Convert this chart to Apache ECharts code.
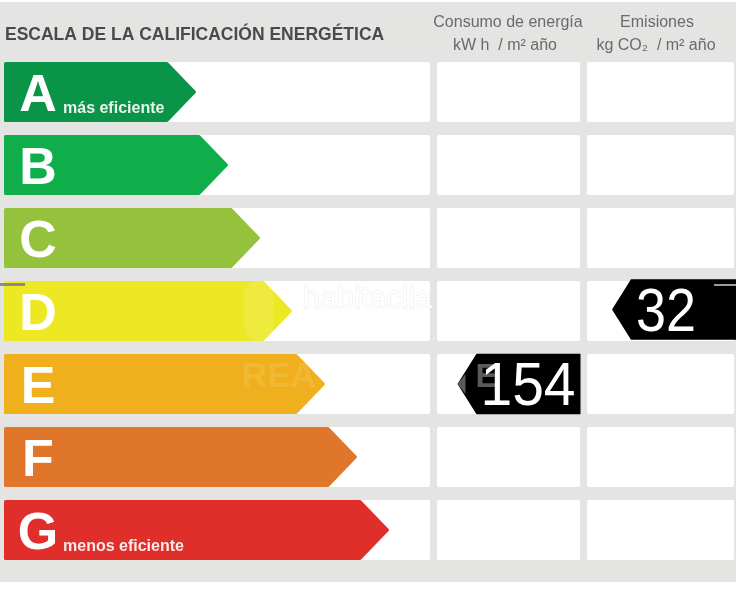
<!DOCTYPE html>
<html>
  <head>
    <meta charset="utf-8" />
    <script src="https://cdn.jsdelivr.net/npm/echarts@6/dist/echarts.min.js"></script>
    <style>
      html, body { margin: 0; padding: 0; background: #fff; }
      #main { width: 736px; height: 600px; }
    </style>
  </head>

  <body>
    <div id="main"></div>
    <script type="text/javascript">
      // chart data
      const ratings = ['A', 'B', 'C', 'D', 'E', 'F', 'G'];
      const ratingNotes = ['más eficiente', '', '', '', '', '', 'menos eficiente'];
      const arrowLengths = [192, 224, 256, 288, 321, 353, 385];
      const consumoTag = ['E', 154];
      const emisionesTag = ['D', 32];

      const ratingColors = ['#0a9448', '#10ae4a', '#94c23c', '#ece824', '#f0b01e', '#e0762a', '#e02e2a'];
      const font = '"Liberation Sans", Arial, sans-serif';

      // x extents of the three white columns, in axis units (same as px here)
      const barStart = 4;
      const headWidth = 29;
      const columns = [[4, 430], [437, 580], [587, 734]];

      var myChart = echarts.init(document.getElementById('main'));

      function cellsItem(params, api) {
        const row = api.value(0);
        const h = api.size([0, 1])[1] * 0.822;
        const y = api.coord([0, row])[1];
        return {
          type: 'group',
          children: columns.map(c => ({
            type: 'rect',
            shape: {
              x: api.coord([c[0], row])[0],
              y: y - h / 2,
              width: c[1] - c[0],
              height: h,
              r: 2
            },
            style: { fill: '#fff' }
          }))
        };
      }

      function arrowItem(params, api) {
        const row = api.value(0);
        const len = api.value(1);
        const h = api.size([0, 1])[1] * 0.822;
        const c = api.coord([barStart, row]);
        const tip = api.coord([barStart + len, row])[0];
        const pad = 1.5;
        const children = [
          {
            type: 'polygon',
            shape: {
              points: [
                [c[0] + pad, c[1] - h / 2 + pad],
                [tip - headWidth, c[1] - h / 2 + pad],
                [tip - pad, c[1]],
                [tip - headWidth, c[1] + h / 2 - pad],
                [c[0] + pad, c[1] + h / 2 - pad]
              ]
            },
            style: { fill: ratingColors[row], stroke: ratingColors[row], lineWidth: 3, lineJoin: 'round' }
          },
          {
            type: 'text',
            style: {
              x: c[0] + 34,
              y: c[1] + 5,
              text: ratings[row],
              fill: '#fff',
              font: 'bold 52px ' + font,
              textAlign: 'center',
              textVerticalAlign: 'middle'
            }
          }
        ];
        if (ratingNotes[row]) {
          children.push({
            type: 'text',
            style: {
              x: c[0] + 59,
              y: c[1] + 17,
              text: ratingNotes[row],
              fill: '#fff',
              opacity: 0.9,
              font: 'bold 16px ' + font,
              textAlign: 'left',
              textVerticalAlign: 'middle'
            }
          });
        }
        return { type: 'group', children: children };
      }

      // the black value tag; the digits are squeezed because no narrow face is installed
      function tagItem(right, width, dy, textX, squeeze, ghost) {
        return function (params, api) {
          const row = api.value(0);
          const h = api.size([0, 1])[1] * 0.83;
          const y = api.coord([0, row])[1] + dy;
          const x1 = api.coord([right, row])[0];
          const x0 = x1 - width;
          const flat = x0 + 19;
          const children = [
            {
              type: 'polygon',
              shape: { points: [[x0, y], [flat, y - h / 2], [x1, y - h / 2], [x1, y + h / 2], [flat, y + h / 2]] },
              style: { fill: '#000' }
            }
          ];
          if (ghost) {
            // watermark showing through the tag
            children.push({
              type: 'polygon',
              shape: { points: [[x0, y], [x0 + 8, y - 10], [x0 + 8, y + 10]] },
              style: { fill: '#5a5a5a' }
            });
            children.push({
              type: 'text',
              style: {
                x: x0 + 29,
                y: y - 6,
                text: ghost,
                fill: '#5a5a5a',
                font: 'bold 33px ' + font,
                textAlign: 'center',
                textVerticalAlign: 'middle'
              }
            });
          }
          children.push({
            type: 'text',
            x: api.coord([textX, row])[0],
            y: y + 4,
            scaleX: squeeze,
            style: {
              text: String(api.value(1)),
              fill: '#fff',
              font: '62px ' + font,
              textAlign: 'center',
              textVerticalAlign: 'middle'
            }
          });
          return { type: 'group', children: children };
        };
      }

      function headerText(x, y, text) {
        return {
          type: 'text',
          x: x,
          y: y,
          style: { text: text, fill: '#6a6a6a', font: '16px ' + font, textAlign: 'center', textVerticalAlign: 'middle' }
        };
      }

      var option = {
        animation: false,
        backgroundColor: '#fff',
        grid: { left: 0, right: 0, top: 55.5, height: 511 },
        xAxis: { type: 'value', min: 0, max: 736, show: false },
        yAxis: { type: 'category', data: ratings, inverse: true, show: false },
        graphic: [
          // grey panel behind everything
          { type: 'rect', z: -10, shape: { x: 0, y: 2, width: 736, height: 580 }, style: { fill: '#e4e4e2' } },
          {
            type: 'text',
            x: 5,
            y: 35.5,
            style: {
              text: 'ESCALA DE LA CALIFICACIÓN ENERGÉTICA',
              fill: '#4a4a4a',
              font: 'bold 17.5px ' + font,
              textVerticalAlign: 'middle'
            }
          },
          headerText(508, 23, 'Consumo de energía'),
          headerText(505, 46, 'kW h  / m² año'),
          headerText(657, 23, 'Emisiones'),
          headerText(656, 46, 'kg CO₂  / m² año'),
          // watermark and scan marks
          {
            type: 'text', z: 20, x: 303, y: 300,
            style: { text: 'habitaclia', fill: '#fff', stroke: 'rgba(222,222,222,0.7)', lineWidth: 1, font: '30.5px ' + font, textVerticalAlign: 'middle' }
          },
          {
            type: 'text', z: 20, x: 242, y: 377,
            style: { text: 'REA', fill: 'rgba(255,255,255,0.1)', font: 'bold 35px ' + font, textVerticalAlign: 'middle' }
          },
          { type: 'rect', z: 20, shape: { x: 244, y: 281, width: 30, height: 60, r: 14 }, style: { fill: 'rgba(255,255,255,0.12)' } },
          { type: 'rect', z: 20, shape: { x: 0, y: 283, width: 25, height: 3 }, style: { fill: '#8a8a8a' } },
          { type: 'rect', z: 20, shape: { x: 714, y: 284, width: 22, height: 2 }, style: { fill: '#9a9a9a' } }
        ],
        series: [
          {
            type: 'custom',
            coordinateSystem: 'cartesian2d',
            renderItem: cellsItem,
            encode: { y: 0 },
            data: ratings.map((r, i) => [i]),
            silent: true
          },
          {
            type: 'custom',
            coordinateSystem: 'cartesian2d',
            renderItem: arrowItem,
            encode: { y: 0, x: 1 },
            data: arrowLengths.map((v, i) => [i, v]),
            silent: true
          },
          {
            type: 'custom',
            coordinateSystem: 'cartesian2d',
            renderItem: tagItem(580.5, 123, 0, 528, 0.92, 'E'),
            encode: { y: 0 },
            data: [[ratings.indexOf(consumoTag[0]), consumoTag[1]]],
            silent: true
          },
          {
            type: 'custom',
            coordinateSystem: 'cartesian2d',
            renderItem: tagItem(736, 124, -1.5, 666, 0.87),
            encode: { y: 0 },
            data: [[ratings.indexOf(emisionesTag[0]), emisionesTag[1]]],
            silent: true
          }
        ]
      };

      myChart.setOption(option);
    </script>
  </body>

</html>
